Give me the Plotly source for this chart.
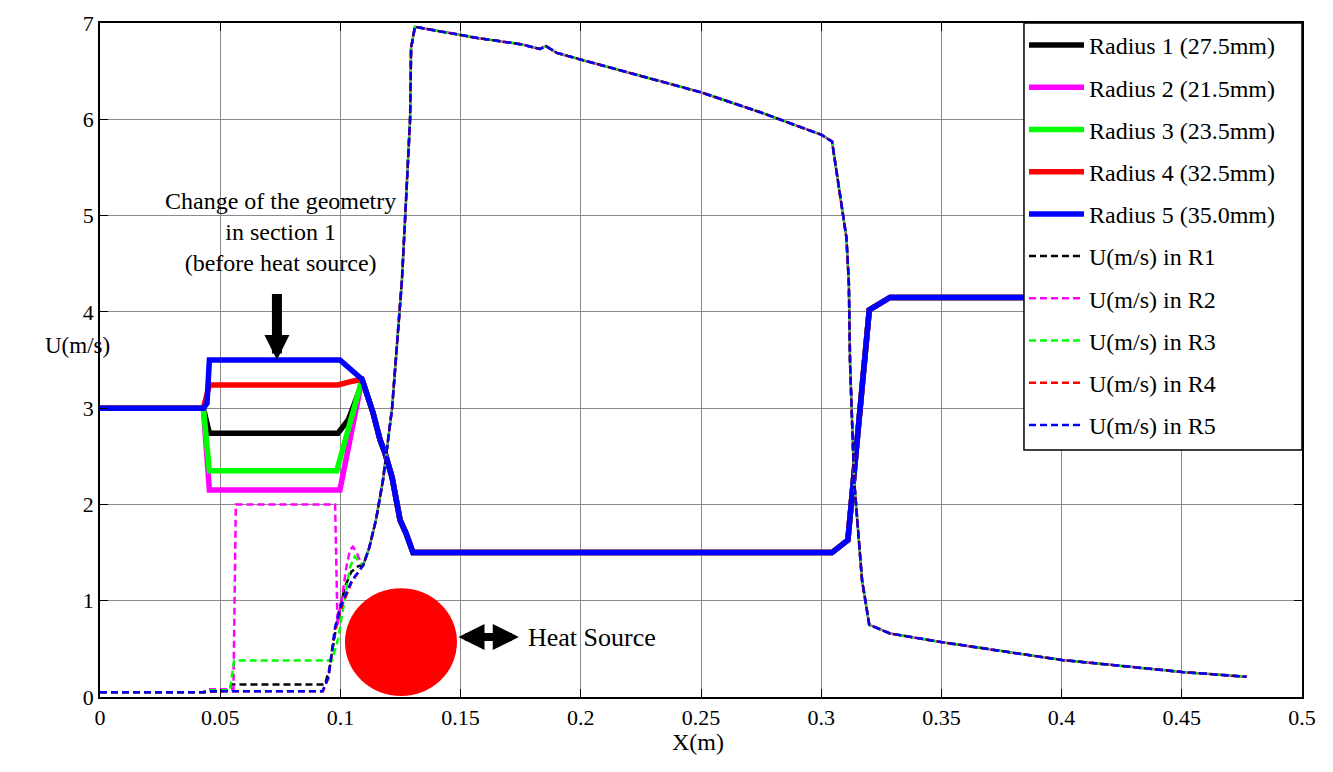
import plotly.graph_objects as go

# ---------------- data ----------------
# thick solid curves (one per radius); all share the same tail after x≈0.109
solid_tail_x = [0.109, 0.1136, 0.1165, 0.1186, 0.1215, 0.1248, 0.1273, 0.1302,
                0.3045, 0.3111, 0.32, 0.3286, 0.477]
solid_tail_y = [3.3, 2.95, 2.67, 2.53, 2.28, 1.84, 1.7, 1.5,
                1.5, 1.63, 4.02, 4.15, 4.15]

r1_x = [0, 0.043, 0.0455, 0.099, 0.1033, 0.108]
r1_y = [3.0, 3.0, 2.74, 2.74, 2.88, 3.19]
r2_x = [0, 0.043, 0.0455, 0.0998]
r2_y = [3.0, 3.0, 2.15, 2.15]
r3_x = [0, 0.043, 0.0455, 0.0985]
r3_y = [3.0, 3.0, 2.35, 2.35]
r4_x = [0, 0.043, 0.0455, 0.099, 0.105]
r4_y = [3.0, 3.0, 3.24, 3.24, 3.28]
r5_x = [0, 0.043, 0.0445, 0.0455, 0.0998]
r5_y = [3.0, 3.0, 3.05, 3.5, 3.5]

# dashed velocity curves U(m/s); all share the same tail after x≈0.1095
dash_tail_x = [0.1095, 0.112, 0.1148, 0.1177, 0.1215, 0.1235, 0.1256, 0.1273, 0.129,
               0.1294, 0.131, 0.158, 0.175, 0.183, 0.1855, 0.19, 0.2, 0.25, 0.275,
               0.3, 0.3045, 0.3105, 0.3115, 0.312, 0.3137, 0.317, 0.32, 0.3286,
               0.35, 0.4, 0.45, 0.477]
dash_tail_y = [1.37, 1.55, 1.84, 2.25, 3.0, 3.63, 4.33, 5.16, 6.01,
               6.74, 6.96, 6.84, 6.78, 6.73, 6.76, 6.69, 6.62, 6.28, 6.07,
               5.84, 5.77, 4.77, 4.3, 3.47, 2.25, 1.21, 0.75, 0.66,
               0.57, 0.385, 0.26, 0.21]

u1_x = [0, 0.043, 0.0535, 0.0548, 0.0936, 0.0955, 0.099, 0.102, 0.1045, 0.1075]
u1_y = [0.05, 0.05, 0.07, 0.13, 0.13, 0.3, 0.85, 1.15, 1.3, 1.36]
u2_x = [0, 0.043, 0.0445, 0.0555, 0.0565, 0.0978, 0.0988, 0.1005, 0.1025, 0.104,
        0.1052, 0.1068, 0.1085]
u2_y = [0.05, 0.05, 0.08, 0.08, 2.0, 2.0, 0.75, 1.0, 1.35, 1.53,
        1.56, 1.5, 1.39]
u3_x = [0, 0.043, 0.0445, 0.054, 0.0558, 0.0965, 0.099, 0.1015, 0.104, 0.106, 0.108]
u3_y = [0.05, 0.05, 0.07, 0.07, 0.38, 0.38, 0.6, 1.0, 1.35, 1.46, 1.4]
u4_x = [0, 0.043, 0.046, 0.0928, 0.095, 0.0978, 0.1007, 0.1048]
u4_y = [0.05, 0.05, 0.06, 0.06, 0.2, 0.7, 0.95, 1.2]
u5_x = [0, 0.043, 0.046, 0.0925, 0.095, 0.0978, 0.1007, 0.1048]
u5_y = [0.05, 0.05, 0.06, 0.06, 0.2, 0.73, 0.98, 1.21]

solid_names = ["Radius 1 (27.5mm)", "Radius 2 (21.5mm)", "Radius 3 (23.5mm)",
               "Radius 4 (32.5mm)", "Radius 5 (35.0mm)"]
dash_names = ["U(m/s) in R1", "U(m/s) in R2", "U(m/s) in R3",
              "U(m/s) in R4", "U(m/s) in R5"]
colors = ["#000000", "#FF00FF", "#00FF00", "#FF0000", "#0000FF"]

x_ticks = [0, 0.05, 0.1, 0.15, 0.2, 0.25, 0.3, 0.35, 0.4, 0.45, 0.5]
y_ticks = [0, 1, 2, 3, 4, 5, 6, 7]

# ---------------- figure ----------------
FONT = "Liberation Serif, Times New Roman, serif"
fig = go.Figure()

solid_heads = [(r1_x, r1_y), (r2_x, r2_y), (r3_x, r3_y), (r4_x, r4_y), (r5_x, r5_y)]
for i, (hx, hy) in enumerate(solid_heads):
    fig.add_trace(go.Scatter(
        x=hx + solid_tail_x, y=hy + solid_tail_y, mode="lines",
        name=solid_names[i], legendgroup=f"s{i}",
        line=dict(color=colors[i], width=5.5)))

dash_heads = [(u1_x, u1_y), (u2_x, u2_y), (u3_x, u3_y), (u4_x, u4_y), (u5_x, u5_y)]
for i, (hx, hy) in enumerate(dash_heads):
    fig.add_trace(go.Scatter(
        x=hx + dash_tail_x, y=hy + dash_tail_y, mode="lines",
        name=dash_names[i], legendgroup=f"d{i}",
        line=dict(color=colors[i], width=2.5, dash="7px,4px")))

axis_common = dict(
    showline=True, linecolor="black", linewidth=1.5, mirror="ticks",
    ticks="inside", ticklen=8, tickcolor="black", tickwidth=1,
    showgrid=True, gridcolor="#8a8a8a", gridwidth=1, zeroline=False,
    tickfont=dict(family=FONT, size=22, color="black"),
)
fig.update_xaxes(range=[0, 0.5], tickvals=x_ticks,
                 ticktext=[f"{v:g}" for v in x_ticks], **axis_common)
fig.update_yaxes(range=[0, 7], tickvals=y_ticks,
                 ticktext=[str(v) for v in y_ticks], **axis_common)

# heat source disc
fig.add_shape(type="circle", xref="x", yref="y",
              x0=0.1019, x1=0.1485, y0=0.01, y1=1.13,
              fillcolor="#FF0000", line=dict(width=0), layer="above")
# legend frame (white box that hides the curves behind the legend)
fig.add_shape(type="rect", xref="paper", yref="paper",
              x0=0.7687, x1=1.0, y0=0.3665, y1=1.0,
              fillcolor="white", line=dict(color="black", width=1.5), layer="above")

annotations = [
    dict(text="U(m/s)", xref="paper", yref="paper", x=-0.0474, y=0.522,
         showarrow=False, font=dict(family=FONT, size=23, color="black")),
    dict(text="X(m)", xref="paper", yref="paper", x=0.4975, y=-0.089,
         showarrow=False, font=dict(family=FONT, size=24, color="black")),
    dict(text="Change of the geometry<br>in section 1<br>(before heat source)",
         xref="x", yref="y", x=0.0749, y=4.83, showarrow=False,
         font=dict(family=FONT, size=24, color="black")),
    dict(text="", xref="x", yref="y", x=0.0736, y=3.5, ax=0.0736, ay=4.2,
         axref="x", ayref="y", showarrow=True, arrowhead=2, arrowsize=0.5,
         arrowwidth=10, arrowcolor="black"),
    dict(text="", xref="x", yref="y", x=0.1742, y=0.623, ax=0.1485, ay=0.623,
         axref="x", ayref="y", showarrow=True, arrowside="end+start",
         arrowhead=2, startarrowhead=2, arrowsize=0.65, startarrowsize=0.65,
         arrowwidth=8, arrowcolor="black"),
    dict(text="Heat Source", xref="x", yref="y", x=0.1772, y=0.623,
         xanchor="left", yanchor="middle", showarrow=False,
         font=dict(family=FONT, size=26, color="black")),
]

fig.update_layout(
    width=1333, height=772, autosize=False,
    margin=dict(l=100, r=31, t=23, b=75),
    plot_bgcolor="white", paper_bgcolor="white",
    font=dict(family=FONT, color="black"),
    annotations=annotations,
    legend=dict(x=0.7687, y=1, xanchor="left", yanchor="top",
                bgcolor="rgba(0,0,0,0)", borderwidth=0,
                font=dict(family=FONT, size=24, color="black"),
                itemwidth=55, tracegroupgap=8),
)

fig.write_html("out.html")
